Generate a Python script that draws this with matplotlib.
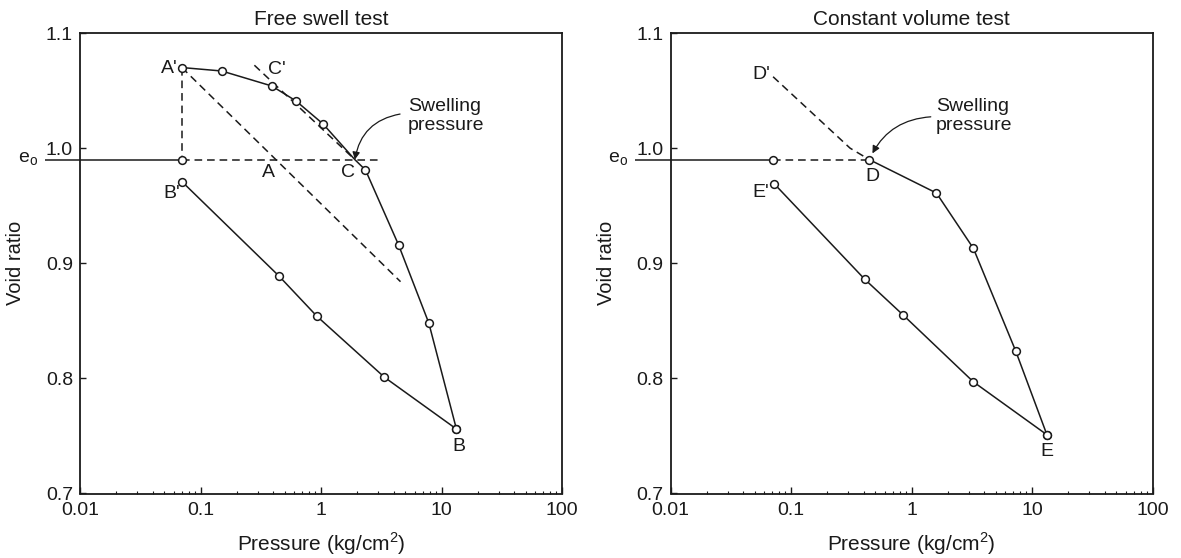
import matplotlib
matplotlib.use("Agg")
import matplotlib.pyplot as plt
import matplotlib.transforms as mtrans

plt.rcParams['font.family'] = ['Liberation Sans', 'DejaVu Sans']
plt.rcParams['mathtext.fontset'] = 'custom'
plt.rcParams['mathtext.rm'] = 'Liberation Sans'

# ---------------- data ----------------
e0 = 0.99

# Free swell test
fs_load_p = [0.07, 0.15, 0.39, 0.62, 1.04, 1.91, 2.34, 4.4, 7.85, 13.3]
fs_load_e = [1.070, 1.067, 1.054, 1.041, 1.021, 0.990, 0.981, 0.916, 0.848, 0.756]
fs_load_marked = [True, True, True, True, True, False, True, True, True, True]
fs_unload_p = [0.07, 0.447, 0.924, 3.36, 13.3]
fs_unload_e = [0.971, 0.889, 0.854, 0.801, 0.756]
fs_vert_p = [0.07, 0.07]
fs_vert_e = [1.070, 0.99]
fs_horiz_p = [0.07, 3.19]
fs_diag_p = [0.07, 4.57]
fs_diag_e = [1.070, 0.884]
fs_tangent_p = [0.28, 1.91]
fs_tangent_e = [1.072, 0.990]
fs_A = (0.43, 0.99)
fs_C = (1.91, 0.99)

# Constant volume test
cv_load_p = [0.447, 1.61, 3.26, 7.31, 13.3]
cv_load_e = [0.990, 0.961, 0.913, 0.824, 0.751]
cv_unload_p = [0.0726, 0.41, 0.853, 3.26, 13.3]
cv_unload_e = [0.969, 0.886, 0.855, 0.797, 0.751]
cv_dprime_p = [0.071, 0.309, 0.447]
cv_dprime_e = [1.062, 1.000, 0.990]
cv_e0_circle_p = 0.071

xticks = [0.01, 0.1, 1, 10, 100]
xticklabels = ["0.01", "0.1", "1", "10", "100"]
yticks = [0.7, 0.8, 0.9, 1.0, 1.1]
yticklabels = ["0.7", "0.8", "0.9", "1.0", "1.1"]
titles = ["Free swell test", "Constant volume test"]

# ---------------- styling ----------------
INK = '#1a1a1a'
FS = 14
FS_LAB = 15
LW = 1.1
DASH = (5.0, 3.2)
MK = dict(marker='o', ms=5.6, mfc='white', mec=INK, mew=1.1)

W, H = 1181, 558
fig = plt.figure(figsize=(W / 100, H / 100), dpi=100)
bottom = 1 - 493.5 / H
height = 460.5 / H
ax1 = fig.add_axes([80 / W, bottom, 482 / W, height])
ax2 = fig.add_axes([670.5 / W, bottom, 482 / W, height])

for ax, title in zip([ax1, ax2], titles):
    ax.set_xscale('log')
    ax.set_xlim(0.01, 100)
    ax.set_ylim(0.7, 1.1)
    ax.set_xticks(xticks)
    ax.set_xticklabels(xticklabels)
    ax.set_yticks(yticks)
    ax.set_yticklabels(yticklabels)
    ax.tick_params(axis='both', which='both', direction='in', labelsize=FS,
                   colors=INK, top=False, right=False)
    ax.tick_params(axis='x', which='major', length=5, width=1.0, pad=6)
    ax.tick_params(axis='x', which='minor', length=2.5, width=0.8)
    ax.tick_params(axis='y', which='major', length=4.5, width=1.0, pad=5)
    ax.tick_params(axis='y', which='minor', left=False)
    for s in ax.spines.values():
        s.set_linewidth(1.3)
        s.set_color(INK)
    ax.set_title(title, fontsize=FS_LAB, pad=6, color=INK)
    ax.set_xlabel(r"Pressure (kg/cm$^{\mathregular{2}}$)", fontsize=FS_LAB, color=INK)
    ax.xaxis.set_label_coords(0.5, -0.080)
    ax.set_ylabel("Void ratio", fontsize=14.5, color=INK)
    ax.yaxis.set_label_coords(-0.114, 0.5)
    ax.text(-0.108, e0, r"e$_{\mathregular{o}}$", transform=ax.get_yaxis_transform(),
            fontsize=FS, ha='center', va='center', color=INK)


def e0_solid(ax, p_end):
    blend = mtrans.blended_transform_factory(ax.transAxes, ax.transData)
    x_end = ax.transAxes.inverted().transform(ax.transData.transform((p_end, e0)))[0]
    ax.plot([-0.073, x_end], [e0, e0], transform=blend, color=INK, lw=LW,
            clip_on=False, solid_capstyle='butt')


def lab(ax, txt, xy, off, ha='center'):
    ax.annotate(txt, xy=xy, xytext=off, textcoords='offset pixels',
                ha=ha, va='center', fontsize=FS, color=INK)


# ---------------- Free swell test ----------------
ax = ax1
e0_solid(ax, fs_vert_p[1])
ax.plot(fs_vert_p, fs_vert_e, color=INK, lw=LW, dashes=DASH)
ax.plot(fs_horiz_p, [e0, e0], color=INK, lw=LW, dashes=DASH)
ax.plot(fs_diag_p, fs_diag_e, color=INK, lw=LW, dashes=DASH)
ax.plot(fs_tangent_p, fs_tangent_e, color=INK, lw=LW, dashes=DASH)
ax.plot([fs_vert_p[1]], [e0], linestyle='none', zorder=5, **MK)

ax.plot(fs_load_p, fs_load_e, color=INK, lw=LW, zorder=3)
ax.plot([p for p, m in zip(fs_load_p, fs_load_marked) if m],
        [e for e, m in zip(fs_load_e, fs_load_marked) if m],
        linestyle='none', zorder=5, **MK)
ax.plot(fs_unload_p, fs_unload_e, color=INK, lw=LW, zorder=3, **MK)

lab(ax, "A'", (fs_load_p[0], fs_load_e[0]), (-4, -1), ha='right')
lab(ax, "C'", (fs_load_p[2], fs_load_e[2]), (5, 16))
lab(ax, "A", fs_A, (-8, -13))
lab(ax, "C", fs_C, (-7, -13))
lab(ax, "B'", (fs_unload_p[0], fs_unload_e[0]), (-2, -12), ha='right')
lab(ax, "B", (fs_unload_p[-1], fs_unload_e[-1]), (2, -17))

ax.text(0.680, 0.819, "Swelling\npressure", transform=ax.transAxes, fontsize=FS,
        ha='left', va='center', linespacing=1.15, color=INK)
ax.annotate("", xy=fs_C, xycoords='data', xytext=(0.664, 0.824), textcoords='axes fraction',
            arrowprops=dict(arrowstyle='-|>', connectionstyle='arc3,rad=0.35', lw=0.9,
                            color=INK, mutation_scale=11, shrinkA=0, shrinkB=0))

# ---------------- Constant volume test ----------------
ax = ax2
e0_solid(ax, cv_e0_circle_p)
ax.plot([cv_e0_circle_p, cv_load_p[0]], [e0, e0], color=INK, lw=LW, dashes=DASH)
ax.plot(cv_dprime_p, cv_dprime_e, color=INK, lw=LW, dashes=DASH)
ax.plot([cv_e0_circle_p], [e0], linestyle='none', zorder=5, **MK)
ax.plot(cv_load_p, cv_load_e, color=INK, lw=LW, zorder=3, **MK)
ax.plot(cv_unload_p, cv_unload_e, color=INK, lw=LW, zorder=3, **MK)

lab(ax, "D'", (cv_dprime_p[0], cv_dprime_e[0]), (-3, 2), ha='right')
lab(ax, "D", (cv_load_p[0], cv_load_e[0]), (3, -17))
lab(ax, "E'", (cv_unload_p[0], cv_unload_e[0]), (-5, -9), ha='right')
lab(ax, "E", (cv_unload_p[-1], cv_unload_e[-1]), (0, -17))

ax.text(0.551, 0.819, "Swelling\npressure", transform=ax.transAxes, fontsize=FS,
        ha='left', va='center', linespacing=1.15, color=INK)
ax.annotate("", xy=(cv_load_p[0], cv_load_e[0]), xycoords='data',
            xytext=(0.540, 0.818), textcoords='axes fraction',
            arrowprops=dict(arrowstyle='-|>', connectionstyle='arc3,rad=0.3', lw=0.9,
                            color=INK, mutation_scale=11, shrinkA=0, shrinkB=5))

fig.savefig("out.png", dpi=100, facecolor='white')
